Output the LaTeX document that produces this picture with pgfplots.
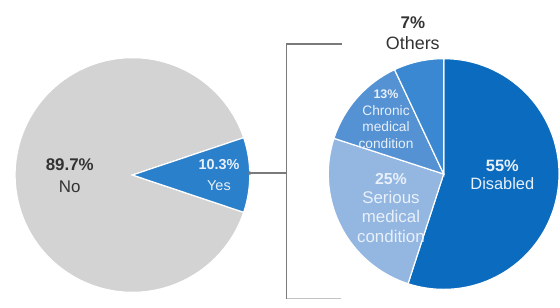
\documentclass[border=0pt]{standalone}
\usepackage{pgfplots}
\usepackage{pgfplotstable}
\pgfplotsset{compat=1.18}
\usepackage{fontspec}
\setmainfont{Liberation Sans}
\definecolor{cNo}{HTML}{D3D3D3}
\definecolor{cYes}{HTML}{2B80CC}
\definecolor{cDis}{HTML}{0B6BBE}
\definecolor{cSer}{HTML}{94B7E2}
\definecolor{cChr}{HTML}{5592D4}
\definecolor{cOth}{HTML}{3A88D2}
\definecolor{cTxt}{HTML}{333333}
\definecolor{cLab}{HTML}{E8F0FA}
\definecolor{cLine}{HTML}{7A7A7A}

\pgfplotstableread{
label value
No 89.7
Yes 10.3
}\answers
\pgfplotstableread{
label value
Disabled 55
Serious 25
Chronic 13
Others 7
}\causes

\begin{document}
\begin{tikzpicture}
% angles computed from the tables
\pgfplotstablegetelem{1}{value}\of\answers
\pgfmathsetmacro\yesA{-1.8*\pgfplotsretval}
\pgfmathsetmacro\yesB{1.8*\pgfplotsretval}
\pgfmathsetmacro\noB{360+\yesA}
\pgfplotstablegetelem{0}{value}\of\causes
\pgfmathsetmacro\rA{90-3.6*\pgfplotsretval}
\pgfplotstablegetelem{1}{value}\of\causes
\pgfmathsetmacro\rB{\rA-3.6*\pgfplotsretval}
\pgfplotstablegetelem{2}{value}\of\causes
\pgfmathsetmacro\rC{\rB-3.6*\pgfplotsretval}
\pgfplotstablegetelem{3}{value}\of\causes
\pgfmathsetmacro\rD{\rC-3.6*\pgfplotsretval}
\begin{axis}[
  x=1pt, y=1pt, xmin=0, xmax=560, ymin=0, ymax=304,
  hide axis, scale only axis, clip=false,
]
\path (axis cs:0,0) rectangle (axis cs:560,304);
% left pie
\fill[cNo, draw=white, line width=1.2pt] (axis cs:130,128) -- ++(\yesB:118pt)
  arc[start angle=\yesB, end angle=\noB, radius=118pt] -- cycle;
\fill[cYes, draw=white, line width=1.2pt] (axis cs:130,128) -- ++(\yesA:118pt)
  arc[start angle=\yesA, end angle=\yesB, radius=118pt] -- cycle;
% right pie
\fill[cDis, draw=white, line width=1.2pt] (axis cs:443,129) -- ++(90:116pt)
  arc[start angle=90, end angle=\rA, radius=116pt] -- cycle;
\fill[cSer, draw=white, line width=1.2pt] (axis cs:443,129) -- ++(\rA:116pt)
  arc[start angle=\rA, end angle=\rB, radius=116pt] -- cycle;
\fill[cChr, draw=white, line width=1.2pt] (axis cs:443,129) -- ++(\rB:116pt)
  arc[start angle=\rB, end angle=\rC, radius=116pt] -- cycle;
\fill[cOth, draw=white, line width=1.2pt] (axis cs:443,129) -- ++(\rC:116pt)
  arc[start angle=\rC, end angle=\rD, radius=116pt] -- cycle;
% connector
\draw[cLine, line width=1.6pt] (axis cs:248,130) -- (axis cs:285,130);
\fill[cLine] (axis cs:248,130) circle[radius=2pt];
\draw[cLine, line width=1.6pt] (axis cs:341,260) -- (axis cs:285,260) -- (axis cs:285,3);
\draw[cLine!45, line width=1.2pt] (axis cs:285,4) -- (axis cs:340,4);
% labels
\node[cTxt, align=center, font=\fontsize{17}{22}\selectfont] at (axis cs:67,127) {\textbf{89.7\%}\\No};
\node[cLab, align=center, font=\fontsize{14.5}{21}\selectfont] at (axis cs:217,128) {\textbf{10.3\%}\\Yes};
\node[cLab, align=center, font=\fontsize{16.5}{17.5}\selectfont] at (axis cs:502,128) {\textbf{55\%}\\Disabled};
\node[cLab, align=center, font=\fontsize{17}{19.5}\selectfont] at (axis cs:390,95) {\textbf{\fontsize{16}{19.5}\selectfont 25\%}\\Serious\\medical\\condition};
\node[cLab, align=center, font=\fontsize{13.8}{16.8}\selectfont] at (axis cs:385,184) {\textbf{\fontsize{12.5}{16.8}\selectfont 13\%}\\Chronic\\medical\\condition};
\node[cTxt, align=center, font=\fontsize{18}{21}\selectfont] at (axis cs:412,271) {\textbf{\fontsize{17}{21}\selectfont 7\%}\\Others};
\end{axis}
\end{tikzpicture}
\end{document}
